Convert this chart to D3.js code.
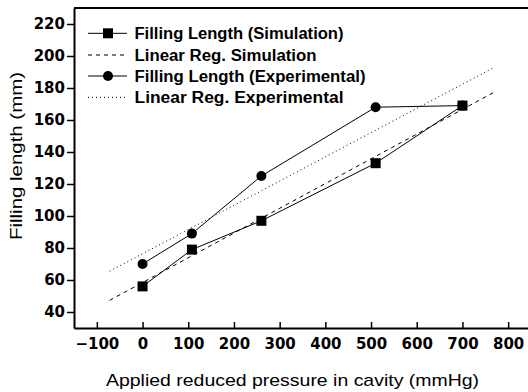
<!DOCTYPE html>
<head>
  <meta charset="utf-8">
  <script src="https://d3js.org/d3.v7.min.js"></script>
  <style>
    body { margin: 0; background: #fff; }
    svg { display: block; }
    .tick text { font-family: "DejaVu Sans", sans-serif; font-weight: bold; font-size: 15px; fill: #000; }
    .legend text { font-family: "Liberation Sans", Arial, sans-serif; font-weight: bold; font-size: 16px; fill: #000; }
    .title { font-family: "Liberation Sans", Arial, sans-serif; font-size: 17px; fill: #000; }
  </style>
</head>
<body>
  <script>
    // pressure values (mmHg)
    var pressure = [0, 108, 260, 510, 700];
    var simLength = [56, 79, 97, 133, 169];
    var expLength = [70, 89, 125, 168, 169];
    // regression lines, end points
    var simRegX = [-72, 767];
    var simRegY = [47.3, 177];
    var expRegX = [-72, 767];
    var expRegY = [65.5, 192.5];

    var xTicks = [-100, 0, 100, 200, 300, 400, 500, 600, 700, 800];
    var yTicks = [40, 60, 80, 100, 120, 140, 160, 180, 200, 220];
    var legendLabels = ["Filling Length (Simulation)", "Linear Reg. Simulation",
                        "Filling Length (Experimental)", "Linear Reg. Experimental"];

    var W = 528, H = 392;
    var margin = {left: 74, top: 8, right: -3, bottom: 64};

    var svg = d3.select("body").append("svg")
        .attr("width", W)
        .attr("height", H);

    var x = d3.scaleLinear().domain([-150, 850]).range([margin.left, W - margin.right]);
    var y = d3.scaleLinear().domain([30, 230]).range([H - margin.bottom, margin.top]);

    // top frame
    svg.append("line")
        .attr("x1", x(-150)).attr("x2", x(850))
        .attr("y1", y(230)).attr("y2", y(230))
        .attr("stroke", "#000").attr("stroke-width", 2);

    svg.append("g")
        .attr("transform", "translate(0," + y(30) + ")")
        .call(d3.axisBottom(x).tickValues(xTicks).tickSizeInner(-6).tickSizeOuter(0).tickPadding(10));
    svg.append("g")
        .attr("transform", "translate(" + x(-150) + ",0)")
        .call(d3.axisLeft(y).tickValues(yTicks).tickSizeInner(7).tickSizeOuter(0).tickPadding(2));
    svg.selectAll(".domain").attr("stroke-width", 2);
    svg.selectAll(".tick line").attr("stroke-width", 1.5);

    // regression lines
    function regLine(xs, ys) {
      return d3.line()(xs.map(function(d, i) { return [x(d), y(ys[i])]; }));
    }
    svg.append("path").attr("d", regLine(simRegX, simRegY))
        .attr("fill", "none").attr("stroke", "#000").attr("stroke-width", 1)
        .attr("stroke-dasharray", "4,4");
    svg.append("path").attr("d", regLine(expRegX, expRegY))
        .attr("fill", "none").attr("stroke", "#000").attr("stroke-width", 1)
        .attr("stroke-dasharray", "1,3");

    // data series
    var line = d3.line()
        .x(function(d) { return x(d[0]); })
        .y(function(d) { return y(d[1]); });
    var simPts = pressure.map(function(p, i) { return [p, simLength[i]]; });
    var expPts = pressure.map(function(p, i) { return [p, expLength[i]]; });

    svg.append("path").datum(simPts).attr("d", line)
        .attr("fill", "none").attr("stroke", "#000").attr("stroke-width", 1);
    svg.append("path").datum(expPts).attr("d", line)
        .attr("fill", "none").attr("stroke", "#000").attr("stroke-width", 1);

    svg.selectAll(".sq").data(simPts).enter().append("rect")
        .attr("x", function(d) { return x(d[0]) - 5; })
        .attr("y", function(d) { return y(d[1]) - 5; })
        .attr("width", 10).attr("height", 10).attr("fill", "#000");
    svg.selectAll(".ci").data(expPts).enter().append("circle")
        .attr("cx", function(d) { return x(d[0]); })
        .attr("cy", function(d) { return y(d[1]); })
        .attr("r", 5).attr("fill", "#000");

    // legend
    var legendY = [33.3, 55, 76, 97.3];
    var legendW = [209, 182, 231, 209];
    var leg = svg.append("g").attr("class", "legend");
    legendLabels.forEach(function(lbl, i) {
      var g = leg.append("g").attr("transform", "translate(0," + legendY[i] + ")");
      var ln = g.append("line").attr("x1", 88).attr("x2", 127)
          .attr("stroke", "#000").attr("stroke-width", 1);
      if (i === 1) ln.attr("stroke-dasharray", "4,4");
      if (i === 3) ln.attr("stroke-dasharray", "1,3");
      if (i === 0) g.append("rect").attr("x", 103).attr("y", -5).attr("width", 10).attr("height", 10);
      if (i === 2) g.append("circle").attr("cx", 108).attr("cy", 0).attr("r", 5);
      g.append("text").attr("x", 134.5).attr("dy", "0.36em")
          .attr("textLength", legendW[i]).attr("lengthAdjust", "spacingAndGlyphs")
          .text(lbl);
    });

    // axis titles
    svg.append("text").attr("class", "title")
        .attr("x", 292.5).attr("y", 386)
        .attr("text-anchor", "middle")
        .attr("textLength", 373).attr("lengthAdjust", "spacingAndGlyphs")
        .text("Applied reduced pressure in cavity (mmHg)");
    svg.append("text").attr("class", "title")
        .attr("transform", "translate(22,156) rotate(-90)")
        .attr("text-anchor", "middle")
        .attr("textLength", 168).attr("lengthAdjust", "spacingAndGlyphs")
        .text("Filling length (mm)");
  </script>
</body>
